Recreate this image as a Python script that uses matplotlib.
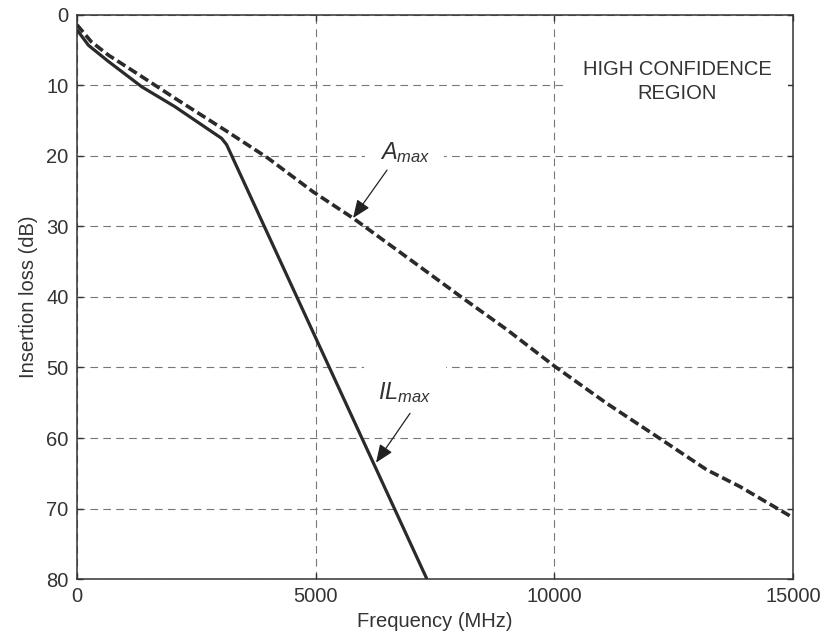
import matplotlib
matplotlib.use("Agg")
import matplotlib.pyplot as plt

plt.rcParams['font.family'] = ['Liberation Sans', 'DejaVu Sans']
plt.rcParams['mathtext.fontset'] = 'custom'
plt.rcParams['mathtext.it'] = 'Liberation Sans:italic'
plt.rcParams['mathtext.rm'] = 'Liberation Sans'
plt.rcParams['lines.scale_dashes'] = False

# Data
freq_amax = [0, 300, 660, 1360, 2050, 3140, 4000, 4950, 5780, 7000, 8090, 9000,
             10000, 11100, 12150, 13190, 13890, 15000]
amax = [1.4, 3.8, 5.7, 8.75, 11.8, 16.5, 20.3, 25.1, 28.8, 34.8, 40.2, 44.6,
        49.8, 55.1, 59.8, 64.5, 66.9, 71.3]

freq_ilmax = [0, 240, 660, 1360, 2050, 3030, 3135, 7330]
ilmax = [2.1, 4.3, 6.6, 10.2, 13.0, 17.5, 18.4, 80]

x_ticks = [0, 5000, 10000, 15000]
y_ticks = [0, 10, 20, 30, 40, 50, 60, 70, 80]

txt = '#333333'
fig = plt.figure(figsize=(8.27, 6.4), dpi=100)
ax = fig.add_axes([0.0931, 0.0953, 0.8658, 0.8813])

ax.plot(freq_ilmax, ilmax, color='#2a2a2a', lw=2.3, solid_capstyle='butt', zorder=4)
ax.plot(freq_amax, amax, color='#2a2a2a', lw=2.6, dashes=(6.8, 3.0), zorder=4)

ax.set_xlim(0, 15000)
ax.set_ylim(80, 0)
ax.set_xticks(x_ticks)
ax.set_yticks(y_ticks)
ax.grid(True, color='#777777', lw=0.8, dashes=(5.5, 3.8))
ax.set_axisbelow(True)
ax.tick_params(direction='in', length=4.5, width=1.0, top=True, right=True,
               labelsize=14.5, labelcolor=txt, color=txt, pad=6)
for s in ax.spines.values():
    s.set_color(txt)
    s.set_linewidth(1.1)

ax.set_xlabel('Frequency (MHz)', fontsize=14.5, color=txt, labelpad=4)
ax.set_ylabel('Insertion loss (dB)', fontsize=14.5, color=txt, labelpad=6)

ax.text(12570, 9.4, 'HIGH CONFIDENCE\nREGION', fontsize=14.5, color=txt,
        ha='center', va='center', linespacing=1.35, zorder=3,
        bbox=dict(boxstyle='square,pad=0.8', facecolor='white', edgecolor='none'))

ax.text(6870, 19.5, r'$A_{max}$', fontsize=17, color=txt, ha='center', va='center',
        zorder=3, bbox=dict(boxstyle='square,pad=0.6', facecolor='white', edgecolor='none'))
ax.text(6870, 53.5, r'$IL_{max}$', fontsize=17, color=txt, ha='center', va='center',
        zorder=3, bbox=dict(boxstyle='square,pad=0.6', facecolor='white', edgecolor='none'))

ap = dict(arrowstyle='-|>,head_length=1.1,head_width=0.45', mutation_scale=10,
          lw=0.9, color='#222222', shrinkA=0, shrinkB=0)
ax.annotate('', xy=(5783, 28.8), xytext=(6495, 22.0), arrowprops=ap, zorder=5)
ax.annotate('', xy=(6264, 63.5), xytext=(6977, 56.5), arrowprops=ap, zorder=5)

fig.savefig('out.png', dpi=100)
